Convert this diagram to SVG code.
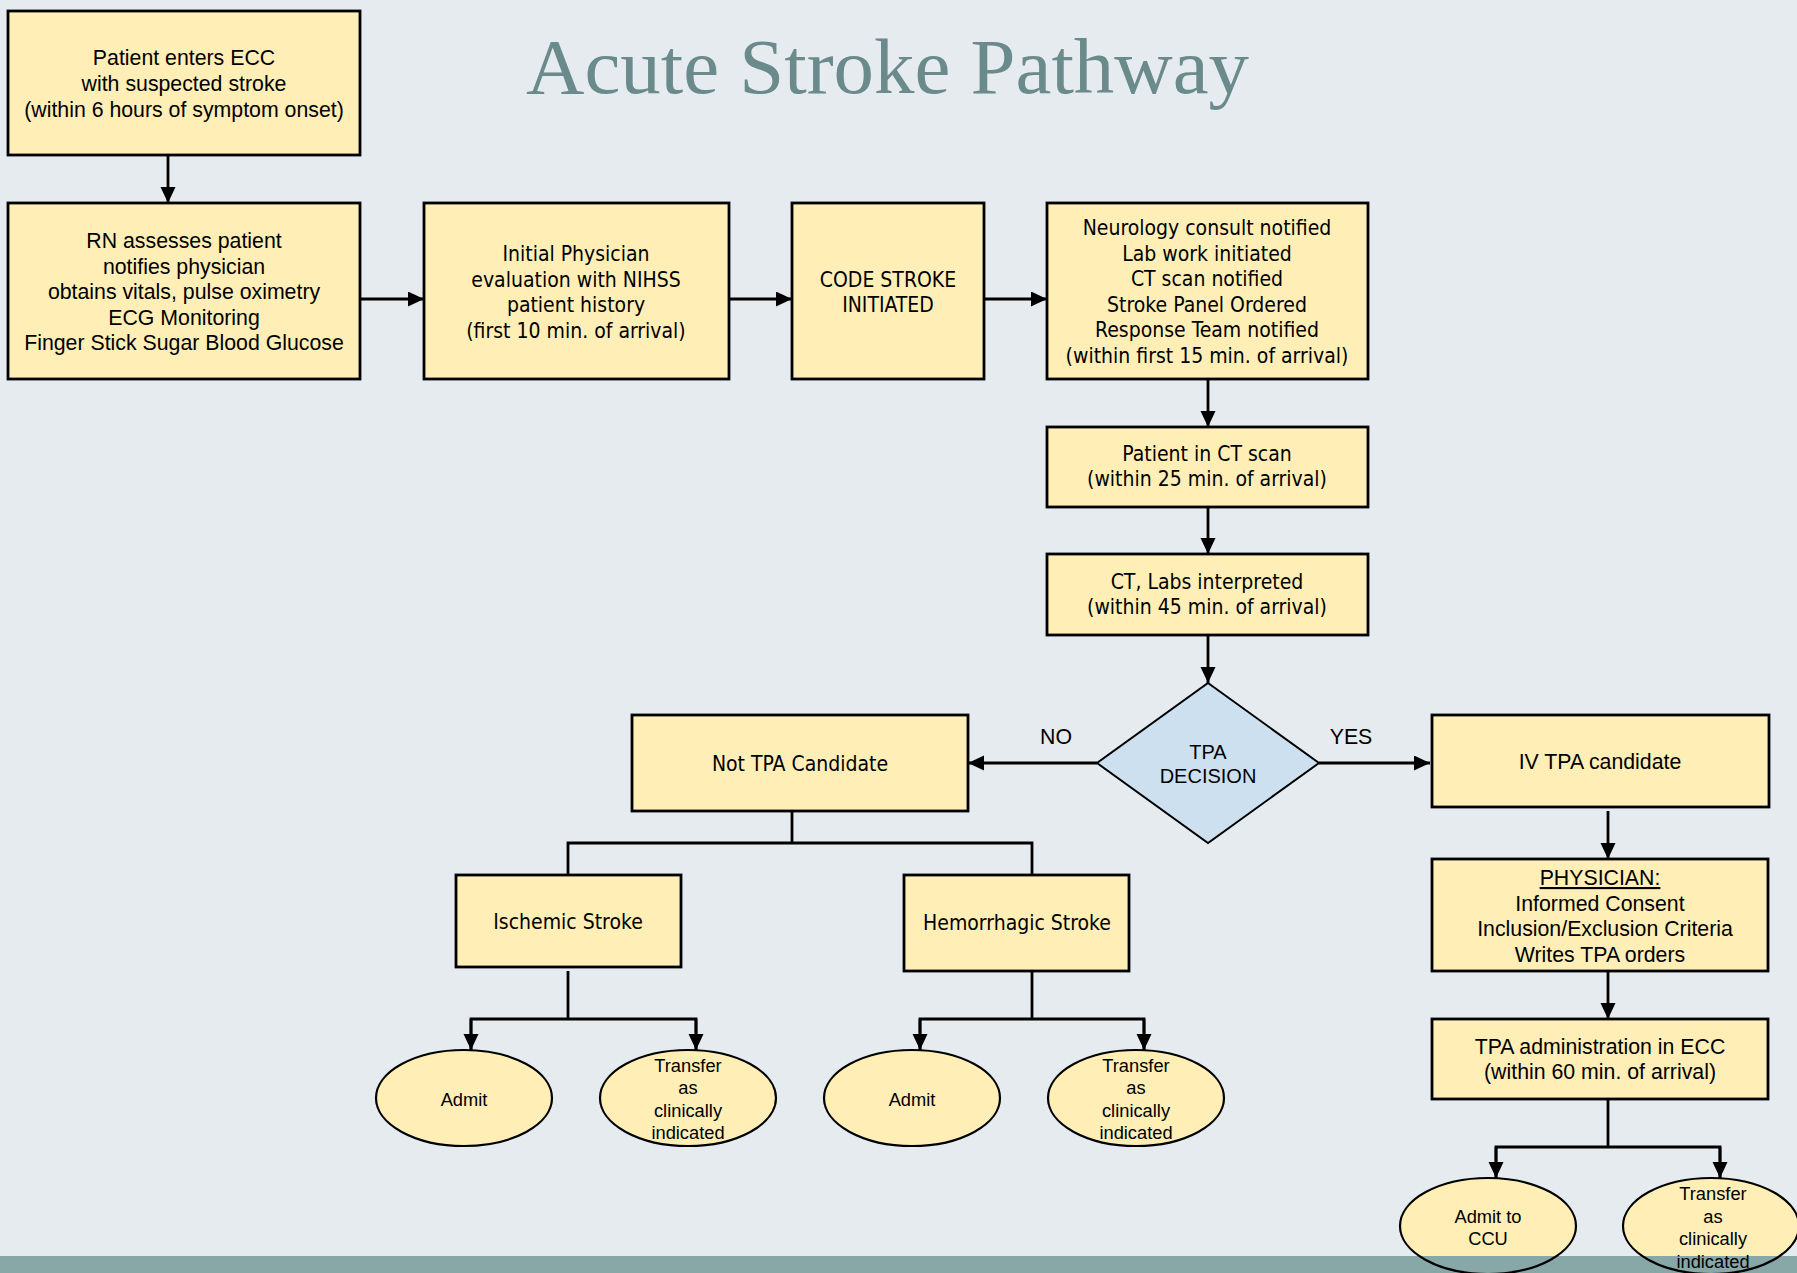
<svg xmlns="http://www.w3.org/2000/svg" width="1797" height="1273" viewBox="0 0 1797 1273">
<defs>
<style>
.box{fill:#ffefb7;stroke:#000;stroke-width:2.8}
.dia{fill:#cde0f0;stroke:#000;stroke-width:2}
.ell{fill:#ffefb7;stroke:#000;stroke-width:2.2}
.ello{fill:none;stroke:#000;stroke-width:2.2}
.ar{font-family:"Liberation Sans",Arial,sans-serif;font-size:21.3px;fill:#000;text-anchor:middle}
.ta{font-family:"DejaVu Sans Condensed","DejaVu Sans",sans-serif;font-stretch:condensed;font-size:21px;fill:#000;text-anchor:middle}
.sm{font-family:"Liberation Sans",Arial,sans-serif;font-size:18.3px;fill:#000;text-anchor:middle}
.ln{fill:none;stroke:#000;stroke-width:2.8}
.title{font-family:"Liberation Serif","Times New Roman",serif;font-size:78px;fill:#6a8a8b}
</style>
<marker id="arr" markerUnits="userSpaceOnUse" markerWidth="18" markerHeight="16" refX="16" refY="7.5" orient="auto">
<path d="M0,0 L16,7.5 L0,15 z" fill="#000"/>
</marker>
<clipPath id="abovebar"><rect x="0" y="0" width="1797" height="1256"/></clipPath>
</defs>
<rect x="0" y="0" width="1797" height="1273" fill="#e5ebee"/>
<rect x="0" y="1256" width="1797" height="17" fill="#88a7a7"/>
<text class="title" x="526" y="93" textLength="723" lengthAdjust="spacingAndGlyphs">Acute Stroke Pathway</text>

<g id="connectors">
<line class="ln" x1="168" y1="155" x2="168" y2="203" marker-end="url(#arr)"/>
<line class="ln" x1="360" y1="299" x2="424" y2="299" marker-end="url(#arr)"/>
<line class="ln" x1="729" y1="299" x2="792" y2="299" marker-end="url(#arr)"/>
<line class="ln" x1="984" y1="299" x2="1047" y2="299" marker-end="url(#arr)"/>
<line class="ln" x1="1208" y1="379" x2="1208" y2="427" marker-end="url(#arr)"/>
<line class="ln" x1="1208" y1="507" x2="1208" y2="554" marker-end="url(#arr)"/>
<line class="ln" x1="1208" y1="635" x2="1208" y2="683" marker-end="url(#arr)"/>
<line class="ln" x1="1097" y1="763" x2="968" y2="763" marker-end="url(#arr)"/>
<line class="ln" x1="1319" y1="763" x2="1430" y2="763" marker-end="url(#arr)"/>
<line class="ln" x1="1608" y1="811" x2="1608" y2="859" marker-end="url(#arr)"/>
<line class="ln" x1="1608" y1="971" x2="1608" y2="1019" marker-end="url(#arr)"/>
<polyline class="ln" points="1608,1099 1608,1147"/>
<polyline class="ln" points="1496,1178 1496,1147 1720,1147 1720,1178"/>
<line class="ln" x1="1496" y1="1147" x2="1496" y2="1178" marker-end="url(#arr)"/>
<line class="ln" x1="1720" y1="1147" x2="1720" y2="1178" marker-end="url(#arr)"/>
<polyline class="ln" points="792,811 792,843"/>
<polyline class="ln" points="568,875 568,843 1032,843 1032,875"/>
<polyline class="ln" points="568,971 568,1019"/>
<polyline class="ln" points="471,1050 471,1019 696,1019 696,1050"/>
<line class="ln" x1="471" y1="1019" x2="471" y2="1050" marker-end="url(#arr)"/>
<line class="ln" x1="696" y1="1019" x2="696" y2="1050" marker-end="url(#arr)"/>
<polyline class="ln" points="1032,971 1032,1019"/>
<polyline class="ln" points="920,1050 920,1019 1144,1019 1144,1050"/>
<line class="ln" x1="920" y1="1019" x2="920" y2="1050" marker-end="url(#arr)"/>
<line class="ln" x1="1144" y1="1019" x2="1144" y2="1050" marker-end="url(#arr)"/>
<text class="ar" x="1056" y="744">NO</text>
<text class="ar" x="1351" y="744">YES</text>
</g>

<g id="n1">
<rect class="box" x="8" y="11" width="352" height="144"/>
<text class="ar" x="184" y="65">Patient enters ECC</text>
<text class="ar" x="184" y="91">with suspected stroke</text>
<text class="ar" x="184" y="117">(within 6 hours of symptom onset)</text>
</g>
<g id="n2">
<rect class="box" x="8" y="203" width="352" height="176"/>
<text class="ar" x="184" y="248">RN assesses patient</text>
<text class="ar" x="184" y="273.5">notifies physician</text>
<text class="ar" x="184" y="299">obtains vitals, pulse oximetry</text>
<text class="ar" x="184" y="324.5">ECG Monitoring</text>
<text class="ar" x="184" y="350">Finger Stick Sugar Blood Glucose</text>
</g>
<g id="n3">
<rect class="box" x="424" y="203" width="305" height="176"/>
<text class="ta" x="576" y="261">Initial Physician</text>
<text class="ta" x="576" y="286.5">evaluation with NIHSS</text>
<text class="ta" x="576" y="312">patient history</text>
<text class="ta" x="576" y="337.5">(first 10 min. of arrival)</text>
</g>
<g id="n4">
<rect class="box" x="792" y="203" width="192" height="176"/>
<text class="ta" x="888" y="287">CODE STROKE</text>
<text class="ta" x="888" y="312">INITIATED</text>
</g>
<g id="n5">
<rect class="box" x="1047" y="203" width="321" height="176"/>
<text class="ta" x="1207" y="235">Neurology consult notified</text>
<text class="ta" x="1207" y="260.5">Lab work initiated</text>
<text class="ta" x="1207" y="286">CT scan notified</text>
<text class="ta" x="1207" y="311.5">Stroke Panel Ordered</text>
<text class="ta" x="1207" y="337">Response Team notified</text>
<text class="ta" x="1207" y="362.5">(within first 15 min. of arrival)</text>
</g>
<g id="n6">
<rect class="box" x="1047" y="427" width="321" height="80"/>
<text class="ta" x="1207" y="461">Patient in CT scan</text>
<text class="ta" x="1207" y="486">(within 25 min. of arrival)</text>
</g>
<g id="n7">
<rect class="box" x="1047" y="554" width="321" height="81"/>
<text class="ta" x="1207" y="589">CT, Labs interpreted</text>
<text class="ta" x="1207" y="614">(within 45 min. of arrival)</text>
</g>
<g id="n8">
<polygon class="dia" points="1208,683 1319,763 1208,843 1097,763"/>
<text class="ar" style="font-size:20px" x="1208" y="759">TPA</text>
<text class="ar" style="font-size:20px" x="1208" y="783">DECISION</text>
</g>
<g id="n9">
<rect class="box" x="632" y="715" width="336" height="96"/>
<text class="ta" x="800" y="771">Not TPA Candidate</text>
</g>
<g id="n10">
<rect class="box" x="1432" y="715" width="337" height="92"/>
<text class="ar" x="1600" y="769">IV TPA candidate</text>
</g>
<g id="n11">
<rect class="box" x="1432" y="859" width="336" height="112"/>
<text class="ar" x="1600" y="885" text-decoration="underline">PHYSICIAN:</text>
<text class="ar" x="1600" y="910.5">Informed Consent</text>
<text class="ar" x="1605" y="936">Inclusion/Exclusion Criteria</text>
<text class="ar" x="1600" y="961.5">Writes TPA orders</text>
</g>
<g id="n12">
<rect class="box" x="1432" y="1019" width="336" height="80"/>
<text class="ar" x="1600" y="1054">TPA administration in ECC</text>
<text class="ar" x="1600" y="1079">(within 60 min. of arrival)</text>
</g>
<g id="n13">
<rect class="box" x="456" y="875" width="225" height="92"/>
<text class="ta" x="568" y="929">Ischemic Stroke</text>
</g>
<g id="n14">
<rect class="box" x="904" y="875" width="225" height="96"/>
<text class="ta" x="1017" y="930">Hemorrhagic Stroke</text>
</g>
<g id="n15">
<ellipse class="ell" cx="464" cy="1098" rx="88" ry="48"/>
<text class="sm" x="464" y="1106">Admit</text>
</g>
<g id="n16">
<ellipse class="ell" cx="688" cy="1098" rx="88" ry="48"/>
<text class="sm" x="688" y="1072">Transfer</text>
<text class="sm" x="688" y="1094">as</text>
<text class="sm" x="688" y="1117">clinically</text>
<text class="sm" x="688" y="1139">indicated</text>
</g>
<g id="n17">
<ellipse class="ell" cx="912" cy="1098" rx="88" ry="48"/>
<text class="sm" x="912" y="1106">Admit</text>
</g>
<g id="n18">
<ellipse class="ell" cx="1136" cy="1098" rx="88" ry="48"/>
<text class="sm" x="1136" y="1072">Transfer</text>
<text class="sm" x="1136" y="1094">as</text>
<text class="sm" x="1136" y="1117">clinically</text>
<text class="sm" x="1136" y="1139">indicated</text>
</g>
<g id="n19">
<ellipse cx="1488" cy="1226" rx="88" ry="48" fill="#ffefb7" clip-path="url(#abovebar)"/>
<ellipse class="ello" cx="1488" cy="1226" rx="88" ry="48"/>
<text class="sm" x="1488" y="1223">Admit to</text>
<text class="sm" x="1488" y="1245">CCU</text>
</g>
<g id="n20">
<ellipse cx="1711" cy="1226" rx="88" ry="48" fill="#ffefb7" clip-path="url(#abovebar)"/>
<ellipse class="ello" cx="1711" cy="1226" rx="88" ry="48"/>
<text class="sm" x="1713" y="1200">Transfer</text>
<text class="sm" x="1713" y="1223">as</text>
<text class="sm" x="1713" y="1245">clinically</text>
<text class="sm" x="1713" y="1268">indicated</text>
</g>
</svg>
